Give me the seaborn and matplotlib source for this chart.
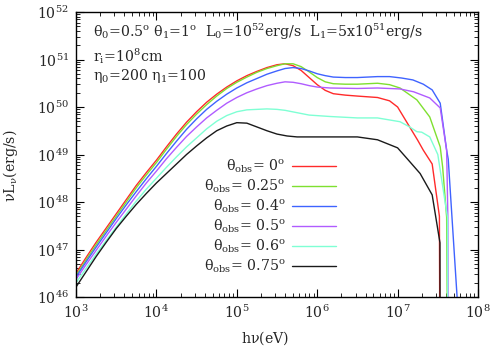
import numpy as np
import pandas as pd
import matplotlib
matplotlib.use("Agg")
import matplotlib.pyplot as plt
import seaborn as sns
from matplotlib.lines import Line2D
from matplotlib.ticker import LogLocator, NullFormatter

# ---- data (log10 values) ----
labels = ["0", "0.25", "0.4", "0.5", "0.6", "0.75"]
colors = ["#ff2a2a", "#7fe030", "#3f63ff", "#b05cff", "#7fffd4", "#1a1a1a"]

lx_rise = [3.0, 3.125, 3.25, 3.375, 3.5, 3.625, 3.75, 3.875, 4.0, 4.125, 4.25, 4.375,
           4.5, 4.625, 4.75, 4.875, 5.0, 5.125, 5.25, 5.375, 5.5]

ly_red_rise = [46.5, 46.83, 47.15, 47.45, 47.75, 48.05, 48.35, 48.62, 48.88, 49.16, 49.43, 49.68,
               49.9, 50.1, 50.27, 50.42, 50.55, 50.66, 50.75, 50.83, 50.89]
ly_green_rise = [46.45, 46.78, 47.1, 47.4, 47.7, 48.0, 48.3, 48.57, 48.83, 49.11, 49.38, 49.63,
                 49.85, 50.05, 50.23, 50.39, 50.52, 50.63, 50.73, 50.81, 50.87]
ly_blue_rise = [46.42, 46.74, 47.05, 47.35, 47.65, 47.94, 48.22, 48.49, 48.75, 49.02, 49.28, 49.53,
                49.75, 49.95, 50.12, 50.27, 50.4, 50.51, 50.6, 50.69, 50.76]
ly_purple_rise = [46.37, 46.68, 46.98, 47.28, 47.57, 47.85, 48.13, 48.4, 48.65, 48.91, 49.15, 49.38,
                  49.58, 49.77, 49.93, 50.08, 50.2, 50.3, 50.38, 50.45, 50.5]
ly_cyan_rise = [46.3, 46.6, 46.9, 47.19, 47.47, 47.75, 48.02, 48.27, 48.5, 48.73, 48.95, 49.16,
                49.35, 49.54, 49.7, 49.82, 49.9, 49.94, 49.95, 49.96, 49.95]
ly_black_rise = [46.21, 46.53, 46.85, 47.15, 47.44, 47.7, 47.95, 48.18, 48.4, 48.6, 48.8, 49.0,
                 49.18, 49.35, 49.5, 49.6, 49.67, 49.66, 49.58, 49.5, 49.43]

lx_red_tail = [5.6, 5.7, 5.8, 5.9, 6.0, 6.1, 6.2, 6.35, 6.5, 6.75, 6.9, 7.0, 7.125, 7.25, 7.32, 7.43, 7.52, 7.527]
ly_red_tail = [50.91, 50.87, 50.77, 50.62, 50.47, 50.35, 50.28, 50.25, 50.23, 50.2, 50.13, 50.0, 49.65, 49.3, 49.09, 48.8, 47.7, 44.0]

lx_green_tail = [5.6, 5.7, 5.8, 5.9, 6.0, 6.1, 6.2, 6.35, 6.5, 6.75, 6.9, 7.03, 7.24, 7.4, 7.53, 7.56, 7.61, 7.625]
ly_green_tail = [50.91, 50.91, 50.85, 50.74, 50.62, 50.53, 50.49, 50.48, 50.48, 50.5, 50.47, 50.4, 50.15, 49.79, 49.16, 48.74, 47.68, 44.0]

lx_blue_tail = [5.6, 5.7, 5.8, 5.9, 6.0, 6.1, 6.2, 6.35, 6.5, 6.75, 6.9, 7.05, 7.19, 7.32, 7.43, 7.53, 7.61, 7.63, 7.74, 7.75]
ly_blue_tail = [50.81, 50.83, 50.81, 50.76, 50.7, 50.66, 50.63, 50.62, 50.62, 50.64, 50.64, 50.61, 50.57, 50.48, 50.36, 50.08, 49.09, 48.9, 46.0, 44.0]

lx_purple_tail = [5.6, 5.7, 5.8, 5.9, 6.0, 6.16, 6.5, 6.75, 7.03, 7.2, 7.4, 7.53, 7.61, 7.625, 7.63]
ly_purple_tail = [50.53, 50.52, 50.49, 50.45, 50.42, 50.4, 50.39, 50.4, 50.38, 50.32, 50.19, 49.98, 49.09, 47.7, 44.0]

lx_cyan_tail = [5.6, 5.75, 5.9, 6.16, 6.5, 6.75, 7.03, 7.15, 7.24, 7.3, 7.4, 7.5, 7.62, 7.625]
ly_cyan_tail = [49.93, 49.88, 49.83, 49.8, 49.77, 49.77, 49.69, 49.58, 49.48, 49.47, 49.37, 49.0, 47.68, 44.0]

lx_black_tail = [5.625, 5.75, 6.0, 6.5, 6.75, 7.0, 7.125, 7.28, 7.43, 7.527, 7.53]
ly_black_tail = [49.39, 49.37, 49.37, 49.37, 49.31, 49.14, 48.9, 48.6, 48.15, 47.14, 44.0]

rise_y = [ly_red_rise, ly_green_rise, ly_blue_rise, ly_purple_rise, ly_cyan_rise, ly_black_rise]
tail_x = [lx_red_tail, lx_green_tail, lx_blue_tail, lx_purple_tail, lx_cyan_tail, lx_black_tail]
tail_y = [ly_red_tail, ly_green_tail, ly_blue_tail, ly_purple_tail, ly_cyan_tail, ly_black_tail]

rows = []
for lab, ry, tx, ty in zip(labels, rise_y, tail_x, tail_y):
    xs = list(lx_rise) + list(tx)
    ys = list(ry) + list(ty)
    for i, (a, b) in enumerate(zip(xs, ys)):
        rows.append({"theta": lab, "order": i, "E": 10.0 ** a, "L": 10.0 ** b})
df = pd.DataFrame(rows)

# ---- style ----
sns.set_style("ticks")
plt.rcParams["font.family"] = ["DejaVu Serif"]
plt.rcParams["mathtext.fontset"] = "dejavuserif"
plt.rcParams["mathtext.default"] = "regular"

FS = 10.2
fig = plt.figure(figsize=(4.9, 3.47), dpi=100)
ax = fig.add_axes([76 / 490, 1 - 297 / 347, (478 - 76) / 490, (297 - 12) / 347])

sns.lineplot(data=df, x="E", y="L", hue="theta", hue_order=labels,
             palette=dict(zip(labels, colors)), sort=False, estimator=None,
             units="theta", lw=1.0, ax=ax, legend=False)

ax.set_xscale("log")
ax.set_yscale("log")
ax.set_xlim(1e3, 1e8)
ax.set_ylim(1e46, 1e52)
ax.xaxis.set_major_locator(LogLocator(base=10, numticks=20))
ax.yaxis.set_major_locator(LogLocator(base=10, numticks=20))
ax.xaxis.set_minor_locator(LogLocator(base=10, subs=np.arange(2, 10), numticks=50))
ax.yaxis.set_minor_locator(LogLocator(base=10, subs=np.arange(2, 10), numticks=50))
ax.xaxis.set_minor_formatter(NullFormatter())
ax.yaxis.set_minor_formatter(NullFormatter())
ax.tick_params(which="both", direction="in", top=True, right=True, color="black")
ax.tick_params(which="major", length=6, width=0.8, labelsize=FS, pad=5)
ax.tick_params(which="minor", length=3, width=0.6)
for s in ax.spines.values():
    s.set_color("black")
    s.set_linewidth(1.0)

ax.set_xlabel(r"h$\nu$(eV)", fontsize=FS)
ax.set_ylabel(r"$\nu$L$_\nu$(erg/s)", fontsize=FS)
ax.xaxis.set_label_coords(0.47, -0.112)
ax.yaxis.set_label_coords(-0.14, 0.46)

ax.text(0.043, 0.93, r"θ$_0$=0.5$^{\rm o}$ θ$_1$=1$^{\rm o}$  L$_0$=10$^{52}$erg/s  L$_1$=5x10$^{51}$erg/s",
        transform=ax.transAxes, fontsize=FS, va="center", ha="left")
ax.text(0.043, 0.845, r"r$_{\rm i}$=10$^8$cm", transform=ax.transAxes, fontsize=FS, va="center", ha="left")
ax.text(0.043, 0.775, r"η$_0$=200 η$_1$=100", transform=ax.transAxes, fontsize=FS, va="center", ha="left")

handles = [Line2D([], [], color=c, lw=1.0) for c in colors]
leg_labels = [r"θ$_{\rm obs}$= " + l + r"$^{\rm o}$" for l in labels]
ax.legend(handles, leg_labels, loc="upper right", bbox_to_anchor=(0.66, 0.51),
          frameon=False, markerfirst=False, handlelength=3.1, handletextpad=0.45,
          labelspacing=0.17, fontsize=FS, borderaxespad=0)

fig.savefig("out.png", dpi=100)
